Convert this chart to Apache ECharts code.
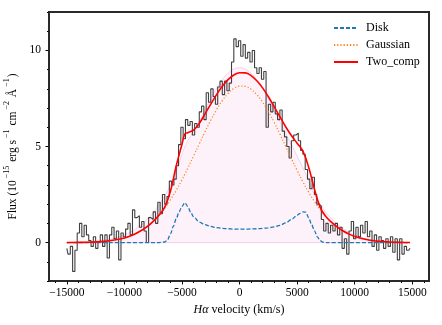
<!DOCTYPE html>
<html>
<head>
<meta charset="utf-8">
<script src="https://cdn.jsdelivr.net/npm/echarts@6/dist/echarts.min.js"></script>
<style>
html, body { margin: 0; padding: 0; background: #fff; }
#main { width: 442px; height: 325px; }
</style>
</head>
<body>
<div id="main"></div>
<script>
// observed spectrum, one value every 200 km/s starting at -15000
var specStart = -15000;
var specStep = 200;
var specFlux = [
    -0.3, -0.6, -0.2, -1.5, -0.4, 0.5, 1.0, 0.3, 0.9, 0.4,
    0.1, -0.2, 0.3, -0.3, 0.0, 0.4, -0.2, 0.4, -0.8, 0.4,
    0.8, 0.2, 0.6, -0.9, 0.5, 0.3, 0.7, 1.0, 0.4, 1.7,
    1.3, 1.4, 0.8, 1.1, 0.6, 0.0, 1.3, 1.2, 1.6, 1.0,
    2.1, 1.5, 2.5, 2.0, 2.4, 3.2, 3.0, 3.3, 4.0, 5.1,
    6.0, 5.4, 6.4, 6.1, 6.3, 5.6, 6.2, 6.0, 6.8, 7.1,
    6.4, 7.8, 7.3, 8.0, 7.6, 7.2, 8.1, 8.4, 7.7, 8.4,
    7.9, 8.3, 9.4, 10.6, 10.2, 10.5, 9.7, 10.3, 9.6, 9.9,
    9.4, 10.0, 9.1, 8.8, 9.1, 8.5, 8.9, 6.0, 7.2, 6.8,
    7.3, 6.7, 6.4, 6.9, 5.8, 5.5, 5.0, 4.4, 5.3, 5.6,
    5.7, 5.3, 4.8, 4.6, 3.8, 3.3, 2.8, 3.4, 2.5, 2.0,
    1.9, 1.2, 0.6, 1.0, 0.5, 0.9, 0.6, 1.0, 0.4, 0.8,
    -0.3, 0.2, -0.6, 0.6, 1.1, 0.2, 0.8, 0.3, 0.9, 0.5,
    1.1, 0.3, 0.6, -0.2, 0.4, -0.4, 0.3, 0.1, -0.3, 0.2,
    -0.2, 0.3, -0.5, 0.2, -0.9, 0.2, -0.6, -0.2, -0.4, -0.3
];

// model curves
var modelVel = [-15000, -14000, -13000, -12000, -11000, -10000, -9500, -9000, -8500, -8000,
    -7500, -7000, -6500, -6000, -5500, -5000, -4750, -4500, -4000, -3500,
    -3000, -2500, -2000, -1500, -1000, -500, 0, 500, 1000, 1500,
    2000, 2500, 3000, 3500, 4000, 4500, 5000, 5500, 6000, 6500,
    7000, 7500, 8000, 8500, 9000, 9500, 10000, 11000, 12000, 13000,
    14000, 14800];
var gaussFlux = [0.00, 0.01, 0.02, 0.05, 0.12, 0.24, 0.34, 0.47, 0.64, 0.84,
    1.10, 1.42, 1.79, 2.23, 2.72, 3.27, 3.57, 3.87, 4.50, 5.13,
    5.77, 6.37, 6.92, 7.39, 7.76, 8.02, 8.14, 8.13, 7.98, 7.70,
    7.31, 6.82, 6.26, 5.65, 5.01, 4.37, 3.75, 3.16, 2.62, 2.14,
    1.71, 1.35, 1.05, 0.80, 0.60, 0.44, 0.32, 0.16, 0.07, 0.03,
    0.01, 0.00];
var twoCompFlux = [0.00, 0.01, 0.02, 0.05, 0.12, 0.24, 0.34, 0.47, 0.64, 0.84,
    1.10, 1.42, 1.84, 2.68, 4.00, 5.12, 5.65, 5.72, 5.85, 6.20,
    6.70, 7.21, 7.70, 8.13, 8.48, 8.72, 8.84, 8.83, 8.69, 8.42,
    8.05, 7.59, 7.08, 6.55, 6.03, 5.57, 5.17, 4.76, 3.92, 2.79,
    1.83, 1.35, 1.05, 0.80, 0.60, 0.44, 0.32, 0.16, 0.07, 0.03,
    0.01, 0.00];
var shadeFlux = [0.01, 0.02, 0.05, 0.10, 0.21, 0.40, 0.54, 0.72, 0.95, 1.23,
    1.57, 1.97, 2.43, 3.00, 3.70, 4.60, 5.00, 5.30, 5.80, 6.30,
    6.90, 7.49, 8.03, 8.48, 8.82, 9.03, 9.10, 9.03, 8.82, 8.48,
    8.03, 7.49, 6.87, 6.30, 5.70, 5.10, 4.50, 3.90, 3.20, 2.50,
    2.00, 1.57, 1.23, 0.95, 0.72, 0.54, 0.40, 0.21, 0.10, 0.05,
    0.02, 0.01];

var diskVel = [-15000, -7000, -6500, -6250, -6000, -5750, -5500, -5250, -5000, -4750,
    -4500, -4250, -4000, -3500, -3000, -2500, -2000, -1500, -1000, -500,
    0, 500, 1000, 1500, 2000, 2500, 3000, 3500, 4000, 4500,
    5000, 5250, 5500, 5750, 6000, 6250, 6500, 6750, 7000, 7250,
    7500, 14800];
var diskFlux = [0, 0, 0.03, 0.15, 0.45, 0.85, 1.25, 1.60, 1.88, 2.08,
    1.88, 1.58, 1.35, 1.07, 0.93, 0.84, 0.78, 0.74, 0.72, 0.70,
    0.70, 0.70, 0.71, 0.72, 0.74, 0.77, 0.82, 0.90, 1.02, 1.20,
    1.42, 1.52, 1.60, 1.58, 1.30, 0.95, 0.62, 0.30, 0.10, 0.02,
    0, 0];

var xTicks = [-15000, -10000, -5000, 0, 5000, 10000, 15000];
var xMinorTicks = [-16000, -14000, -13000, -12000, -11000, -9000, -8000, -7000, -6000,
    -4000, -3000, -2000, -1000, 1000, 2000, 3000, 4000, 6000, 7000, 8000, 9000,
    11000, 12000, 13000, 14000, 16000];
var yTicks = [0, 5, 10];
var yMinorTicks = [-2, -1, 1, 2, 3, 4, 6, 7, 8, 9, 11, 12];

var FONT = 'Liberation Serif';
var X_MIN = -16550, X_MAX = 16450, Y_MIN = -2, Y_MAX = 12;

function pairs(xs, ys) {
    var out = [];
    for (var i = 0; i < ys.length; i++) {
        out.push([xs[i], ys[i]]);
    }
    return out;
}

var specData = [];
for (var i = 0; i < specFlux.length; i++) {
    specData.push([specStart + i * specStep, specFlux[i]]);
}
var baseData = [];
for (var j = 0; j < modelVel.length; j++) {
    baseData.push([modelVel[j], 0]);
}

var dom = document.getElementById('main');
var myChart = echarts.init(dom, null, {renderer: 'canvas'});

var option = {
    animation: false,
    backgroundColor: '#fff',
    // the grid border gives the four spines
    grid: {
        left: 49, right: 13, top: 12, bottom: 44,
        outerBoundsMode: 'none', containLabel: false,
        show: true, borderColor: '#222', borderWidth: 2
    },
    legend: {
        data: ['Disk', 'Gaussian', 'Two_comp'],
        orient: 'vertical',
        left: 333,
        top: 21,
        padding: 0,
        itemWidth: 24,
        itemHeight: 10,
        itemGap: 3,
        align: 'left',
        itemStyle: {opacity: 0},
        textStyle: {fontFamily: FONT, fontSize: 12, lineHeight: 14, color: '#000', padding: [0, 0, 0, 3]}
    },
    xAxis: [{
        type: 'value',
        min: X_MIN,
        max: X_MAX,
        axisLine: {show: false, onZero: false},
        axisTick: {show: true, length: 3.5, customValues: xTicks, lineStyle: {color: '#000'}},
        axisLabel: {
            customValues: xTicks, margin: 6,
            fontFamily: FONT, fontSize: 11.5, color: '#000',
            formatter: function (v) { return String(v).replace('-', '\u2212'); }
        },
        splitLine: {show: false},
        name: '{i|H\u03b1}{t| velocity (km/s)}',
        nameLocation: 'middle',
        nameGap: 21,
        nameTextStyle: {
            rich: {
                i: {fontFamily: FONT, fontSize: 12, fontStyle: 'italic', color: '#000'},
                t: {fontFamily: FONT, fontSize: 12, color: '#000'}
            }
        }
    }, {
        type: 'value',
        min: X_MIN,
        max: X_MAX,
        position: 'bottom',
        axisLine: {show: false, onZero: false},
        axisTick: {show: true, length: 2, customValues: xMinorTicks, lineStyle: {color: '#000'}},
        axisLabel: {show: false},
        splitLine: {show: false}
    }],
    yAxis: [{
        type: 'value',
        min: Y_MIN,
        max: Y_MAX,
        axisLine: {show: false, onZero: false},
        axisTick: {show: true, length: 3.5, customValues: yTicks, lineStyle: {color: '#000'}},
        axisLabel: {customValues: yTicks, margin: 8, fontFamily: FONT, fontSize: 11.5, color: '#000'},
        splitLine: {show: false},
        name: '{t|Flux (10}{s|\u221215}{t| erg s}{s|\u22121}{t| cm}{s|\u22122}{t| \u00c5}{s|\u22121}{t|)}',
        nameLocation: 'middle',
        nameRotate: 90,
        nameGap: 23,
        nameTextStyle: {
            rich: {
                t: {fontFamily: FONT, fontSize: 11.5, lineHeight: 19, color: '#000'},
                s: {fontFamily: FONT, fontSize: 8, lineHeight: 9, verticalAlign: 'top', color: '#000', padding: [0, 1, 0, 2]}
            }
        }
    }, {
        type: 'value',
        min: Y_MIN,
        max: Y_MAX,
        position: 'left',
        axisLine: {show: false, onZero: false},
        axisTick: {show: true, length: 2, customValues: yMinorTicks, lineStyle: {color: '#000'}},
        axisLabel: {show: false},
        splitLine: {show: false}
    }],
    series: [
        { // shaded area
            name: 'shade',
            type: 'line',
            data: pairs(modelVel, shadeFlux),
            smooth: 0.4,
            symbol: 'none',
            silent: true,
            lineStyle: {color: 'rgba(230,120,200,0.3)', width: 1},
            areaStyle: {color: 'rgba(230,120,200,0.14)'},
            z: 1
        },
        {
            name: 'base',
            type: 'line',
            data: baseData,
            symbol: 'none',
            silent: true,
            lineStyle: {color: 'rgba(230,120,200,0.35)', width: 1},
            z: 1
        },
        {
            name: 'spectrum',
            type: 'line',
            data: specData,
            step: 'middle',
            symbol: 'none',
            lineStyle: {color: '#000', width: 1.1, opacity: 0.75},
            z: 2
        },
        {
            name: 'Disk',
            type: 'line',
            data: pairs(diskVel, diskFlux),
            smooth: 0.3,
            smoothMonotone: 'x',
            symbol: 'none',
            lineStyle: {color: '#1f77b4', width: 1.3, type: [4, 2]},
            z: 3
        },
        {
            name: 'Gaussian',
            type: 'line',
            data: pairs(modelVel, gaussFlux),
            smooth: 0.4,
            symbol: 'none',
            lineStyle: {color: '#ff7f0e', width: 1.2, type: [1.2, 2]},
            z: 3
        },
        {
            name: 'Two_comp',
            type: 'line',
            data: pairs(modelVel, twoCompFlux),
            smooth: 0.4,
            symbol: 'none',
            lineStyle: {color: '#ff0000', width: 1.6},
            z: 4
        }
    ]
};

if (option && typeof option === "object") {
    myChart.setOption(option, true);
}

// extra frame on top of the series, placed from the axis scales
var p0 = myChart.convertToPixel({gridIndex: 0}, [X_MIN, Y_MAX]);
var p1 = myChart.convertToPixel({gridIndex: 0}, [X_MAX, Y_MIN]);
myChart.setOption({
    graphic: [{
        type: 'rect',
        silent: true,
        z: 100,
        shape: {x: p0[0], y: p0[1], width: p1[0] - p0[0], height: p1[1] - p0[1]},
        style: {fill: null, stroke: '#333', lineWidth: 1}
    }]
});
</script>
</body>
</html>
